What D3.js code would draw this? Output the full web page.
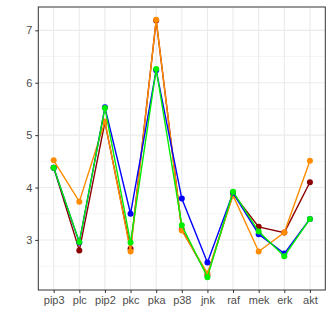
<!DOCTYPE html>
<html><head><meta charset="utf-8">
<script src="https://cdn.jsdelivr.net/npm/d3@7"></script>
<style>body{margin:0;background:#fff;} text{font-family:"Liberation Sans",Arial,sans-serif;}</style>
</head><body>
<svg id="c" width="333" height="333"></svg>
<script>
const categories = ["pip3","plc","pip2","pkc","pka","p38","jnk","raf","mek","erk","akt"];
const seriesNames = ["darkred","orange","blue","green"];
const darkredValues = [4.38, 2.80, 5.25, 2.83, 7.19, 3.20, 2.33, 3.88, 3.25, 3.14, 4.10];
const orangeValues  = [4.52, 3.73, 5.26, 2.78, 7.20, 3.18, 2.36, 3.85, 2.78, 3.14, 4.51];
const blueValues    = [4.38, 2.95, 5.53, 3.50, 6.24, 3.79, 2.57, 3.90, 3.11, 2.74, 3.40];
const greenValues   = [4.38, 2.96, 5.52, 2.95, 6.26, 3.28, 2.29, 3.92, 3.16, 2.69, 3.40];
const yTicks = [3,4,5,6,7];
const yMinor = [2.5,3.5,4.5,5.5,6.5];
const colors = {darkred:"#8B0000", orange:"#FF8C00", blue:"#0000FF", green:"#00EE00"};
const seriesValues = {darkred:darkredValues, orange:orangeValues, blue:blueValues, green:greenValues};

const L=38.3, R=325.3, T=7, B=290;
const svg = d3.select("#c");
const allVals = [].concat(darkredValues, orangeValues, blueValues, greenValues);
const ext = d3.extent(allVals), pad=(ext[1]-ext[0])*0.05;
const y = d3.scaleLinear().domain([ext[0]-pad, ext[1]+pad]).range([B,T]);
const x = d3.scalePoint().domain(categories).range([L,R]).padding(0.6);

// grid
svg.append("g").selectAll("line").data(yMinor).join("line")
  .attr("x1",L).attr("x2",R).attr("y1",d=>y(d)).attr("y2",d=>y(d))
  .attr("stroke","#EBEBEB").attr("stroke-width",0.55);
svg.append("g").selectAll("line").data(yTicks).join("line")
  .attr("x1",L).attr("x2",R).attr("y1",d=>y(d)).attr("y2",d=>y(d))
  .attr("stroke","#EBEBEB").attr("stroke-width",1.1);
svg.append("g").selectAll("line").data(categories).join("line")
  .attr("y1",T).attr("y2",B).attr("x1",d=>x(d)).attr("x2",d=>x(d))
  .attr("stroke","#EBEBEB").attr("stroke-width",1.1);

// series
seriesNames.forEach(s=>{
  const vals = seriesValues[s];
  const data = categories.map((c,i)=>({c, v:vals[i]}));
  svg.append("path").datum(data)
    .attr("fill","none").attr("stroke",colors[s]).attr("stroke-width",1.4)
    .attr("d", d3.line().x(d=>x(d.c)).y(d=>y(d.v)));
  svg.append("g").selectAll("circle").data(data).join("circle")
    .attr("cx",d=>x(d.c)).attr("cy",d=>y(d.v)).attr("r",3)
    .attr("fill",colors[s]);
});

// border
svg.append("rect").attr("x",L).attr("y",T).attr("width",R-L).attr("height",B-T)
  .attr("fill","none").attr("stroke","#333333").attr("stroke-width",1);

// axes
const yAxis = svg.append("g").attr("transform",`translate(${L},0)`)
  .call(d3.axisLeft(y).tickValues(yTicks).tickSize(3).tickPadding(3).tickFormat(d3.format("d")));
const xAxis = svg.append("g").attr("transform",`translate(0,${B})`)
  .call(d3.axisBottom(x).tickSize(3).tickPadding(3));
[yAxis,xAxis].forEach(a=>{
  a.select(".domain").remove();
  a.selectAll(".tick line").attr("stroke","#333333");
  a.selectAll(".tick text").attr("fill","#4D4D4D").style("font-size","11px")
    .style("font-family","'Liberation Sans',Arial,sans-serif");
});
</script>
</body></html>
